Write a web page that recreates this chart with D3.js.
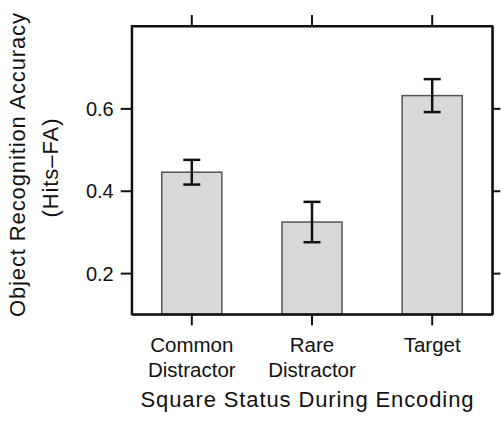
<!DOCTYPE html>
<html>
<head>
<meta charset="UTF-8">
<title>Object Recognition Accuracy</title>
<style>
	body { margin: 0; background: #fff; }
	text { font-family: "Liberation Sans", Arial, Helvetica, sans-serif; fill: #111; }
	.bar { fill: #d9d9d9; stroke: #555; stroke-width: 1.5; }
	.err { stroke: #111; stroke-width: 2.5; fill: none; }
	.axis path, .axis line { stroke: #111; stroke-width: 2; }
</style>
</head>
<body>
<script src="https://cdnjs.cloudflare.com/ajax/libs/d3/7.8.5/d3.min.js"></script>
<script>
	// data
	var categories = ["Common Distractor", "Rare Distractor", "Target"];
	var labelLines = [["Common", "Distractor"], ["Rare", "Distractor"], ["Target"]];
	var accuracy = [0.445, 0.324, 0.631];
	var errors = [0.030, 0.049, 0.040];
	var yTicks = [0.2, 0.4, 0.6];

	var W = 501, H = 421;
	var box = {left: 131.7, right: 492.3, top: 26, bottom: 314.3};

	var svg = d3.select("body").append("svg")
		.attr("width", W)
		.attr("height", H);

	var x = d3.scaleBand()
		.domain(categories)
		.range([box.left, box.right])
		.paddingInner(0.5)
		.paddingOuter(0.25);

	var y = d3.scaleLinear()
		.domain([0.1, 0.8])
		.range([box.bottom, box.top]);

	function cx(d) { return x(d) + x.bandwidth() / 2; }

	// bars
	svg.selectAll(".bar")
		.data(categories)
		.enter().append("rect")
		.attr("class", "bar")
		.attr("x", function(d) { return x(d); })
		.attr("width", x.bandwidth())
		.attr("y", function(d, i) { return y(accuracy[i]); })
		.attr("height", function(d, i) { return box.bottom - y(accuracy[i]); });

	// error bars
	var cap = 8.5;
	var eb = svg.selectAll(".eb")
		.data(categories)
		.enter().append("g")
		.attr("class", "err");
	eb.append("line")
		.attr("x1", cx)
		.attr("x2", cx)
		.attr("y1", function(d, i) { return y(accuracy[i] + errors[i]); })
		.attr("y2", function(d, i) { return y(accuracy[i] - errors[i]); });
	eb.append("line")
		.attr("x1", function(d) { return cx(d) - cap; })
		.attr("x2", function(d) { return cx(d) + cap; })
		.attr("y1", function(d, i) { return y(accuracy[i] + errors[i]); })
		.attr("y2", function(d, i) { return y(accuracy[i] + errors[i]); });
	eb.append("line")
		.attr("x1", function(d) { return cx(d) - cap; })
		.attr("x2", function(d) { return cx(d) + cap; })
		.attr("y1", function(d, i) { return y(accuracy[i] - errors[i]); })
		.attr("y2", function(d, i) { return y(accuracy[i] - errors[i]); });

	// box axes, ticks pointing outward on all four sides
	var axL = svg.append("g").attr("class", "axis")
		.attr("transform", "translate(" + box.left + ",0)")
		.call(d3.axisLeft(y).tickValues(yTicks).tickSizeInner(11).tickSizeOuter(0).tickFormat(d3.format(".1f")));
	axL.selectAll("text")
		.attr("x", -18)
		.attr("dy", "0.36em")
		.attr("fill", "#111")
		.style("font-size", "20px")
		.style("font-family", "'Liberation Sans', Arial, sans-serif");

	svg.append("g").attr("class", "axis")
		.attr("transform", "translate(" + box.right + ",0)")
		.call(d3.axisRight(y).tickValues(yTicks).tickSizeInner(8).tickSizeOuter(0).tickFormat(""));

	svg.append("g").attr("class", "axis")
		.attr("transform", "translate(0," + box.top + ")")
		.call(d3.axisTop(x).tickSizeInner(11).tickSizeOuter(0).tickFormat(""));

	svg.append("g").attr("class", "axis")
		.attr("transform", "translate(0," + box.bottom + ")")
		.call(d3.axisBottom(x).tickSizeInner(11).tickSizeOuter(0).tickFormat(""));

	// box frame
	svg.append("rect")
		.attr("x", box.left).attr("y", box.top)
		.attr("width", box.right - box.left).attr("height", box.bottom - box.top)
		.attr("fill", "none")
		.attr("stroke", "#111")
		.attr("stroke-width", 2);

	// category labels (two lines)
	svg.selectAll(".cat")
		.data(categories)
		.enter().append("text")
		.attr("class", "cat")
		.attr("text-anchor", "middle")
		.style("font-size", "20.5px")
		.each(function(d, i) {
			var t = d3.select(this);
			labelLines[i].forEach(function(s, j) {
				t.append("tspan")
					.attr("x", cx(d))
					.attr("y", 352 + j * 24.5)
					.text(s);
			});
		});

	// x title
	svg.append("text")
		.attr("x", 307)
		.attr("y", 407)
		.attr("text-anchor", "middle")
		.attr("textLength", 333)
		.attr("lengthAdjust", "spacing")
		.style("font-size", "22px")
		.text("Square Status During Encoding");

	// y title
	var yt = svg.append("g")
		.attr("transform", "translate(25,165) rotate(-90)");
	yt.append("text")
		.attr("text-anchor", "middle")
		.attr("textLength", 304)
		.attr("lengthAdjust", "spacing")
		.style("font-size", "22px")
		.text("Object Recognition Accuracy");
	yt.append("text")
		.attr("x", -3)
		.attr("y", 33)
		.attr("text-anchor", "middle")
		.attr("textLength", 99)
		.attr("lengthAdjust", "spacing")
		.style("font-size", "22px")
		.text("(Hits\u2013FA)");
</script>
</body>
</html>
